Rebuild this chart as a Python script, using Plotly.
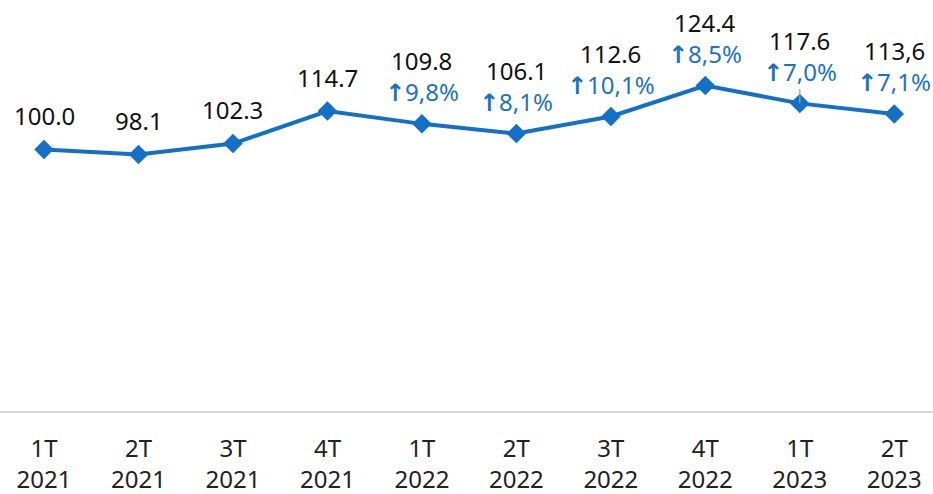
import plotly.graph_objects as go

quarters = ["1T<br>2021", "2T<br>2021", "3T<br>2021", "4T<br>2021",
            "1T<br>2022", "2T<br>2022", "3T<br>2022", "4T<br>2022",
            "1T<br>2023", "2T<br>2023"]
values = [100.0, 98.1, 102.3, 114.7, 109.8, 106.1, 112.6, 124.4, 117.6, 113.6]
value_labels = ["100.0", "98.1", "102.3", "114.7", "109.8", "106.1",
                "112.6", "124.4", "117.6", "113,6"]
growth_labels = [None, None, None, None, "9,8%", "8,1%", "10,1%", "8,5%", "7,0%", "7,1%"]

LINE_COLOR = "#1270c9"
PCT_COLOR = "#1a72c6"
FONT = "Noto Sans"
FS = 24

fig = go.Figure()
x_idx = list(range(len(quarters)))
fig.add_trace(go.Scatter(
    x=x_idx, y=values, mode="lines+markers",
    line=dict(color=LINE_COLOR, width=4),
    marker=dict(symbol="diamond", size=15, color=LINE_COLOR),
    hoverinfo="skip", showlegend=False,
))

arrow = '<span style="font-family:DejaVu Sans;font-weight:bold">↑</span>'
annotations = []
for i, (v, lab, g) in enumerate(zip(values, value_labels, growth_labels)):
    if g is None:
        annotations.append(dict(x=i, y=v, xref="x", yref="y", text=lab, showarrow=False,
                                yshift=34, font=dict(family=FONT, size=FS, color="#111111")))
    else:
        annotations.append(dict(x=i, y=v, xref="x", yref="y", text=lab, showarrow=False,
                                yshift=63, font=dict(family=FONT, size=FS, color="#111111")))
        annotations.append(dict(x=i, y=v, xref="x", yref="y", text=arrow + g, showarrow=False,
                                yshift=32, font=dict(family=FONT, size=FS, color=PCT_COLOR)))

# thin grey leader tick above the 1T 2023 point
lead_i = 8
annotations.append(dict(x=lead_i, y=values[lead_i], xref="x", yref="y", text="",
                        showarrow=True, arrowhead=0, arrowwidth=1.2, arrowcolor="#a0a0a0",
                        ax=0, ay=-16, standoff=0))

fig.update_layout(
    width=933, height=494,
    margin=dict(l=0, r=0, t=0, b=82, autoexpand=False),
    paper_bgcolor="white", plot_bgcolor="white",
    annotations=annotations,
    xaxis=dict(
        tickmode="array", tickvals=x_idx, ticktext=quarters,
        range=[-0.466, 9.41], showgrid=False, zeroline=False, automargin=False,
        showline=False, ticks="", ticklabelstandoff=20,
        tickfont=dict(family=FONT, size=FS, color="#222222"),
    ),
    yaxis=dict(range=[0, 157], visible=False, showgrid=False, zeroline=False, automargin=False),
    shapes=[dict(type="line", xref="paper", yref="paper", x0=0, x1=1, y0=0, y1=0,
                 line=dict(color="#d9d9d9", width=2))],
)

fig.write_html("out.html", config={"displayModeBar": False},
               post_script="document.body.style.margin='0px';document.body.style.overflow='hidden';")
